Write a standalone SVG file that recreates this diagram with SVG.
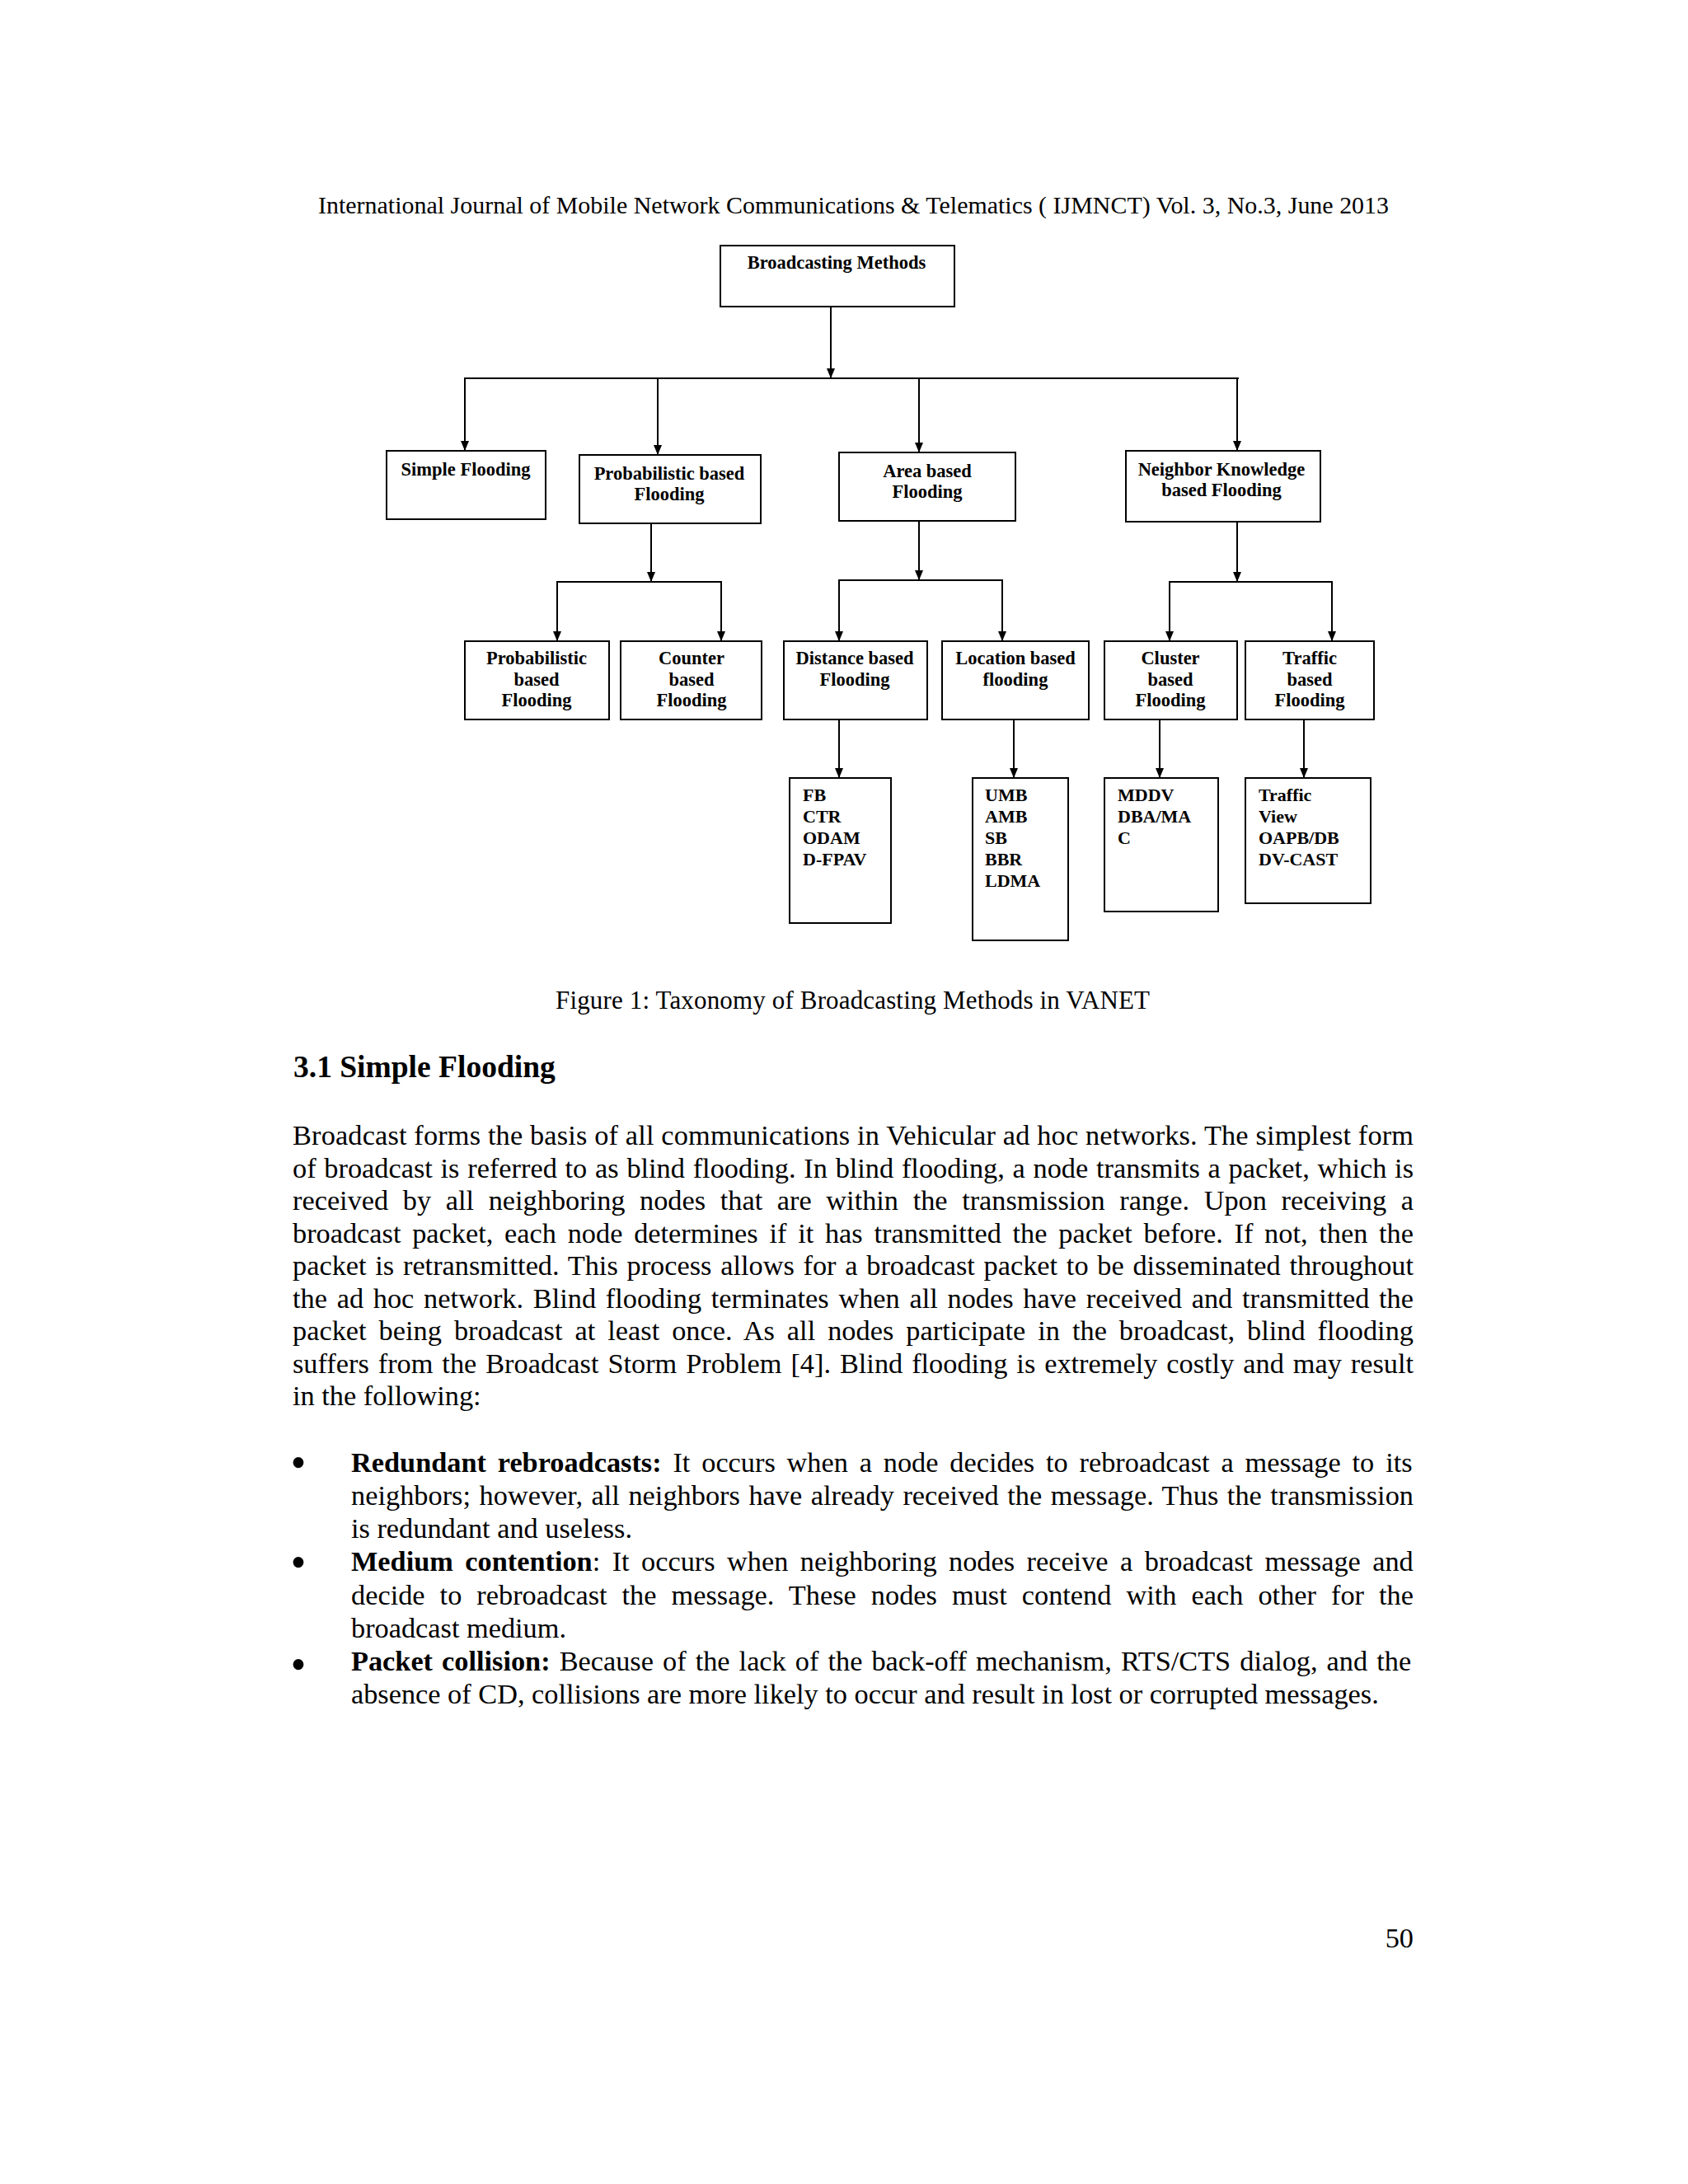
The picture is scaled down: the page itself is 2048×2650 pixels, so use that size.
<svg xmlns="http://www.w3.org/2000/svg" width="2048" height="2650" viewBox="0 0 2048 2650">
<style>
.page{font-family:"Liberation Serif","Times New Roman",serif;fill:#000}
.box{fill:#fff;stroke:#000;stroke-width:2}
.lbl{font-family:"Liberation Serif","Times New Roman",serif;font-weight:bold;font-size:22.5px;fill:#000;text-anchor:middle}
.lst{font-family:"Liberation Serif","Times New Roman",serif;font-weight:bold;font-size:22px;fill:#000}
.con{fill:none;stroke:#000;stroke-width:2}
.body{font-family:"Liberation Serif","Times New Roman",serif;font-size:34.3px;fill:#000}
.b{font-weight:bold}
.bul{font-size:54px;text-anchor:middle}
</style>
<defs>
<marker id="ah" markerUnits="userSpaceOnUse" markerWidth="12" markerHeight="10" refX="12" refY="5" orient="auto">
<path d="M0,0 L12,5 L0,10 z" fill="#000"/>
</marker>
</defs>
<rect width="2048" height="2650" fill="#fff"/>

<text class="page" x="386" y="259" font-size="29.9" textLength="1299" lengthAdjust="spacing">International Journal of Mobile Network Communications &amp; Telematics ( IJMNCT) Vol. 3, No.3, June 2013</text>

<g id="connectors">
<line class="con" x1="1008" y1="372" x2="1008" y2="459" marker-end="url(#ah)"/>
<line class="con" x1="563" y1="459" x2="1503" y2="459"/>
<line class="con" x1="564" y1="459" x2="564" y2="547" marker-end="url(#ah)"/>
<line class="con" x1="798" y1="459" x2="798" y2="552" marker-end="url(#ah)"/>
<line class="con" x1="1115" y1="459" x2="1115" y2="549" marker-end="url(#ah)"/>
<line class="con" x1="1501" y1="459" x2="1501" y2="547" marker-end="url(#ah)"/>

<line class="con" x1="790" y1="635" x2="790" y2="706" marker-end="url(#ah)"/>
<line class="con" x1="675" y1="706" x2="876" y2="706"/>
<line class="con" x1="676" y1="706" x2="676" y2="778" marker-end="url(#ah)"/>
<line class="con" x1="875" y1="706" x2="875" y2="778" marker-end="url(#ah)"/>

<line class="con" x1="1115" y1="632" x2="1115" y2="704" marker-end="url(#ah)"/>
<line class="con" x1="1017" y1="704" x2="1217" y2="704"/>
<line class="con" x1="1018" y1="704" x2="1018" y2="778" marker-end="url(#ah)"/>
<line class="con" x1="1216" y1="704" x2="1216" y2="778" marker-end="url(#ah)"/>

<line class="con" x1="1501" y1="633" x2="1501" y2="706" marker-end="url(#ah)"/>
<line class="con" x1="1418" y1="706" x2="1617" y2="706"/>
<line class="con" x1="1419" y1="706" x2="1419" y2="778" marker-end="url(#ah)"/>
<line class="con" x1="1616" y1="706" x2="1616" y2="778" marker-end="url(#ah)"/>

<line class="con" x1="1018" y1="873" x2="1018" y2="944" marker-end="url(#ah)"/>
<line class="con" x1="1230" y1="873" x2="1230" y2="944" marker-end="url(#ah)"/>
<line class="con" x1="1407" y1="873" x2="1407" y2="944" marker-end="url(#ah)"/>
<line class="con" x1="1582" y1="873" x2="1582" y2="944" marker-end="url(#ah)"/>
</g>

<g id="n-root">
<rect class="box" x="874" y="298" width="284" height="74"/>
<text class="lbl" x="1015" y="326">Broadcasting Methods</text>
</g>

<g id="n-simple">
<rect class="box" x="469" y="547" width="193" height="83"/>
<text class="lbl" x="565" y="577">Simple Flooding</text>
</g>
<g id="n-prob">
<rect class="box" x="703" y="552" width="220" height="83"/>
<text class="lbl" x="812" y="582">Probabilistic based</text>
<text class="lbl" x="812" y="607">Flooding</text>
</g>
<g id="n-area">
<rect class="box" x="1018" y="549" width="214" height="83"/>
<text class="lbl" x="1125" y="579">Area based</text>
<text class="lbl" x="1125" y="604">Flooding</text>
</g>
<g id="n-neighbor">
<rect class="box" x="1366" y="547" width="236" height="86"/>
<text class="lbl" x="1482" y="577">Neighbor Knowledge</text>
<text class="lbl" x="1482" y="602">based Flooding</text>
</g>

<g id="n-prob2">
<rect class="box" x="564" y="778" width="175" height="95"/>
<text class="lbl" x="651" y="806">Probabilistic</text>
<text class="lbl" x="651" y="832">based</text>
<text class="lbl" x="651" y="857">Flooding</text>
</g>
<g id="n-counter">
<rect class="box" x="753" y="778" width="171" height="95"/>
<text class="lbl" x="839" y="806">Counter</text>
<text class="lbl" x="839" y="832">based</text>
<text class="lbl" x="839" y="857">Flooding</text>
</g>
<g id="n-distance">
<rect class="box" x="951" y="778" width="174" height="95"/>
<text class="lbl" x="1037" y="806">Distance based</text>
<text class="lbl" x="1037" y="832">Flooding</text>
</g>
<g id="n-location">
<rect class="box" x="1143" y="778" width="178" height="95"/>
<text class="lbl" x="1232" y="806">Location based</text>
<text class="lbl" x="1232" y="832">flooding</text>
</g>
<g id="n-cluster">
<rect class="box" x="1340" y="778" width="161" height="95"/>
<text class="lbl" x="1420" y="806">Cluster</text>
<text class="lbl" x="1420" y="832">based</text>
<text class="lbl" x="1420" y="857">Flooding</text>
</g>
<g id="n-traffic">
<rect class="box" x="1511" y="778" width="156" height="95"/>
<text class="lbl" x="1589" y="806">Traffic</text>
<text class="lbl" x="1589" y="832">based</text>
<text class="lbl" x="1589" y="857">Flooding</text>
</g>

<g id="n-list-distance">
<rect class="box" x="958" y="944" width="123" height="176"/>
<text class="lst" x="974" y="972">FB</text>
<text class="lst" x="974" y="998">CTR</text>
<text class="lst" x="974" y="1024">ODAM</text>
<text class="lst" x="974" y="1050">D-FPAV</text>
</g>
<g id="n-list-location">
<rect class="box" x="1180" y="944" width="116" height="197"/>
<text class="lst" x="1195" y="972">UMB</text>
<text class="lst" x="1195" y="998">AMB</text>
<text class="lst" x="1195" y="1024">SB</text>
<text class="lst" x="1195" y="1050">BBR</text>
<text class="lst" x="1195" y="1076">LDMA</text>
</g>
<g id="n-list-cluster">
<rect class="box" x="1340" y="944" width="138" height="162"/>
<text class="lst" x="1356" y="972">MDDV</text>
<text class="lst" x="1356" y="998">DBA/MA</text>
<text class="lst" x="1356" y="1024">C</text>
</g>
<g id="n-list-traffic">
<rect class="box" x="1511" y="944" width="152" height="152"/>
<text class="lst" x="1527" y="972">Traffic</text>
<text class="lst" x="1527" y="998">View</text>
<text class="lst" x="1527" y="1024">OAPB/DB</text>
<text class="lst" x="1527" y="1050">DV-CAST</text>
</g>

<text class="page" x="674" y="1224" font-size="31" textLength="721" lengthAdjust="spacing">Figure 1: Taxonomy of Broadcasting Methods in VANET</text>

<text class="page" x="356" y="1307" font-size="37.5" font-weight="bold">3.1 Simple Flooding</text>

<g class="body">
<text x="355" y="1389" textLength="1360" lengthAdjust="spacing">Broadcast forms the basis of all communications in Vehicular ad hoc networks. The simplest form</text>
<text x="355" y="1429" word-spacing="1.2" textLength="1360" lengthAdjust="spacing">of broadcast is referred to as blind flooding. In blind flooding, a node transmits a packet, which is</text>
<text x="355" y="1468" word-spacing="9.06" textLength="1360" lengthAdjust="spacing">received by all neighboring nodes that are within the transmission range. Upon receiving a</text>
<text x="355" y="1508" word-spacing="5.19" textLength="1360" lengthAdjust="spacing">broadcast packet, each node determines if it has transmitted the packet before. If not, then the</text>
<text x="355" y="1547" word-spacing="2.17" textLength="1360" lengthAdjust="spacing">packet is retransmitted. This process allows for a broadcast packet to be disseminated throughout</text>
<text x="355" y="1587" word-spacing="3.17" textLength="1360" lengthAdjust="spacing">the ad hoc network. Blind flooding terminates when all nodes have received and transmitted the</text>
<text x="355" y="1626" word-spacing="6.37" textLength="1360" lengthAdjust="spacing">packet being broadcast at least once. As all nodes participate in the broadcast, blind flooding</text>
<text x="355" y="1666" word-spacing="2.35" textLength="1360" lengthAdjust="spacing">suffers from the Broadcast Storm Problem [4]. Blind flooding is extremely costly and may result</text>
<text x="355" y="1705">in the following:</text>

<text class="bul" x="362" y="1793">•</text>
<text x="426" y="1786" word-spacing="5.28"><tspan class="b">Redundant rebroadcasts:</tspan> It occurs when a node decides to rebroadcast a message to its</text>
<text x="426" y="1826" word-spacing="1.92" textLength="1289" lengthAdjust="spacing">neighbors; however, all neighbors have already received the message. Thus the transmission</text>
<text x="426" y="1866">is redundant and useless.</text>
<text class="bul" x="362" y="1914">•</text>
<text x="426" y="1906" word-spacing="5.9"><tspan class="b">Medium contention</tspan>: It occurs when neighboring nodes receive a broadcast message and</text>
<text x="426" y="1947" word-spacing="9.47" textLength="1289" lengthAdjust="spacing">decide to rebroadcast the message. These nodes must contend with each other for the</text>
<text x="426" y="1987">broadcast medium.</text>
<text class="bul" x="362" y="2038">•</text>
<text x="426" y="2027" word-spacing="2.5"><tspan class="b">Packet collision:</tspan> Because of the lack of the back-off mechanism, RTS/CTS dialog, and the</text>
<text x="426" y="2067">absence of CD, collisions are more likely to occur and result in lost or corrupted messages.</text>

<text x="1715" y="2363" text-anchor="end">50</text>
</g>
</svg>
